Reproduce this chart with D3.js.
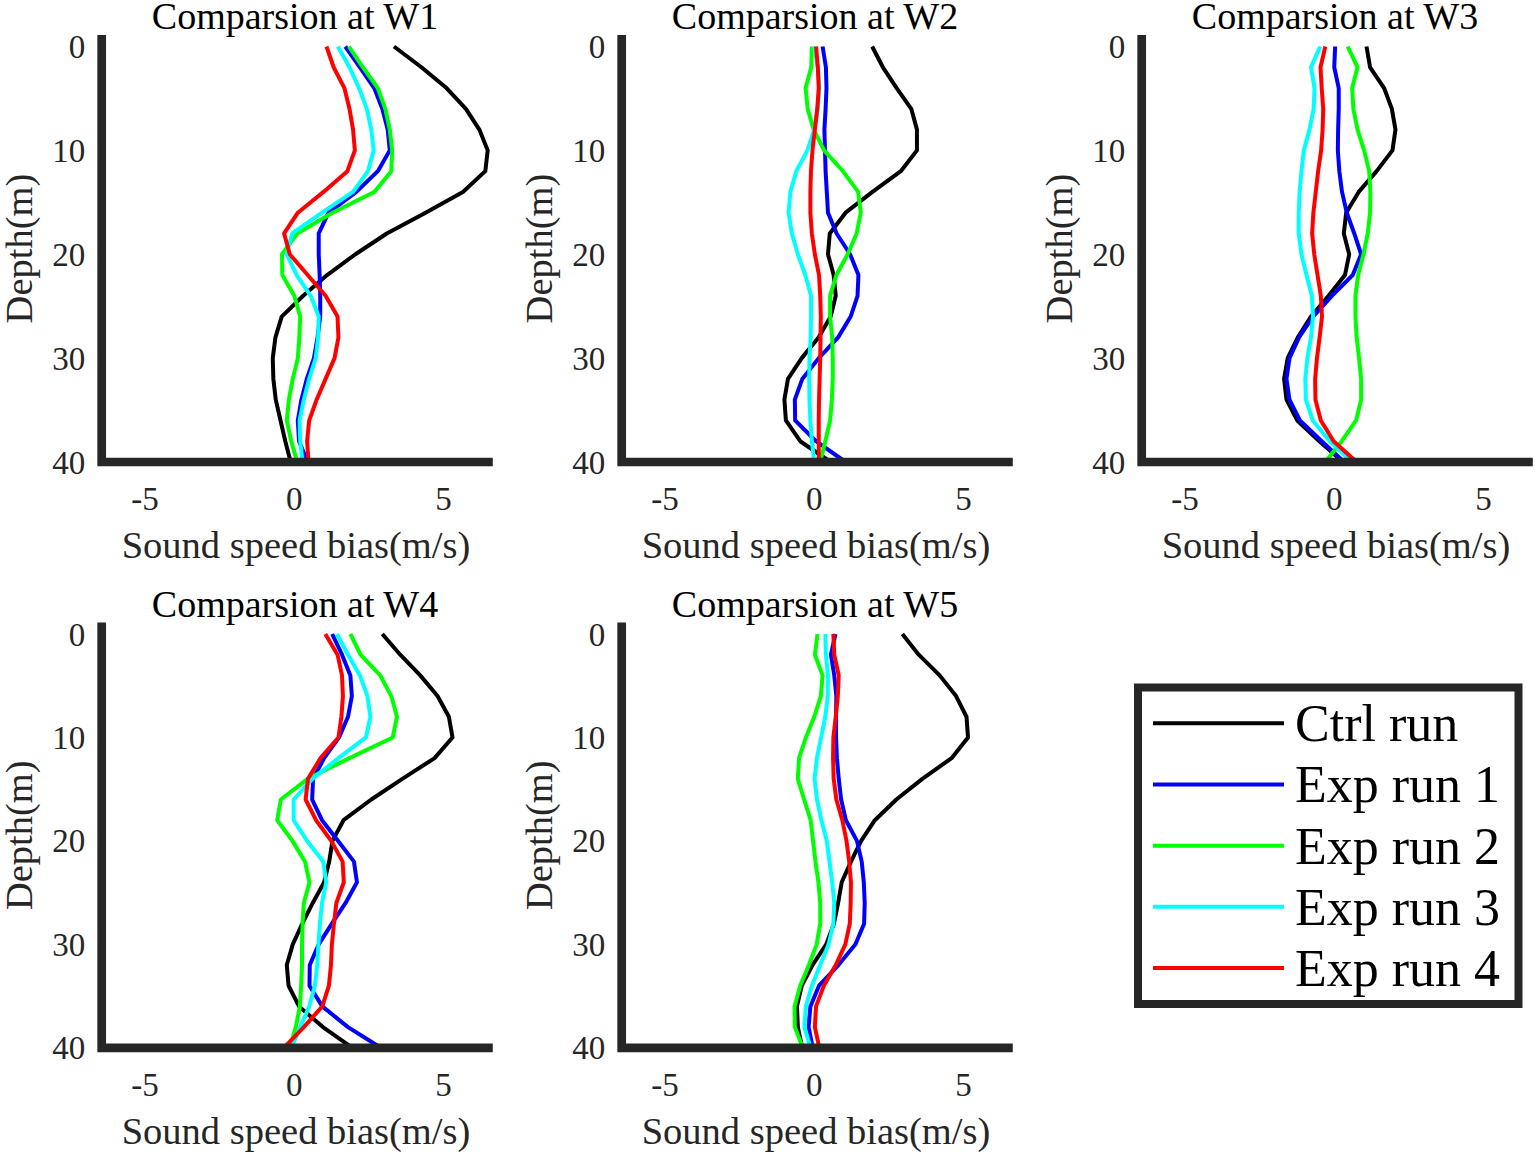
<!DOCTYPE html>
<html>
<head>
<meta charset="utf-8">
<script src="https://cdn.jsdelivr.net/npm/d3@7/dist/d3.min.js"></script>
<style>
  html, body { margin: 0; padding: 0; background: #fff; }
  svg { display: block; }
  text { font-family: "Liberation Serif", "Times New Roman", "DejaVu Serif", serif; }
</style>
</head>
<body>
<svg id="chart" width="1535" height="1155"></svg>
<script>
// ---------------- DATA ----------------
const depths = [0,2,4,6,8,10,12,14,16,18,20,22,24,26,28,30,32,34,36,38,40];
const seriesNames = ["Ctrl run", "Exp run 1", "Exp run 2", "Exp run 3", "Exp run 4"];
const seriesColors = ["#000000", "#0000ff", "#00ff00", "#00ffff", "#ff0000"];
const panelTitles = ["Comparsion at W1", "Comparsion at W2", "Comparsion at W3", "Comparsion at W4", "Comparsion at W5"];
const xTicks = [-5, 0, 5];
const yTicks = [0, 10, 20, 30, 40];
const xLabel = "Sound speed bias(m/s)";
const yLabel = "Depth(m)";

// W1
const w1Ctrl = [3.34,4.26,5.1,5.75,6.2,6.48,6.4,5.65,4.4,3.1,2.05,1.1,0.3,-0.42,-0.63,-0.72,-0.70,-0.62,-0.46,-0.3,-0.12];
const w1Exp1 = [1.71,2.2,2.68,2.95,3.13,3.2,2.8,2.08,1.15,0.82,0.82,0.85,0.87,0.87,0.78,0.66,0.42,0.24,0.12,0.16,0.45];
const w1Exp2 = [1.83,2.3,2.8,3.05,3.2,3.28,3.25,2.68,1.28,0.1,-0.41,-0.4,0.0,0.2,0.17,0.12,-0.05,-0.18,-0.25,-0.1,0.1];
const w1Exp3 = [1.46,1.85,2.17,2.43,2.58,2.66,2.47,1.97,0.93,-0.07,-0.25,0.08,0.55,0.82,0.8,0.72,0.5,0.32,0.18,0.2,0.28];
const w1Exp4 = [1.08,1.32,1.68,1.85,1.97,2.03,1.78,0.98,0.12,-0.34,-0.15,0.45,1.05,1.45,1.48,1.35,1.05,0.75,0.5,0.43,0.48];
// W2
const w2Ctrl = [1.94,2.3,2.76,3.25,3.44,3.44,2.9,1.95,1.05,0.52,0.46,0.65,0.72,0.55,0.15,-0.42,-0.88,-1.0,-0.95,-0.47,0.55];
const w2Exp1 = [0.28,0.39,0.41,0.38,0.34,0.36,0.38,0.42,0.46,0.75,1.2,1.48,1.45,1.22,0.8,0.15,-0.4,-0.65,-0.64,0.06,1.05];
const w2Exp2 = [-0.08,-0.1,-0.29,-0.22,-0.02,0.33,0.96,1.47,1.56,1.42,1.12,0.74,0.53,0.53,0.6,0.62,0.62,0.59,0.53,0.37,0.2];
const w2Exp3 = [0.0,0.12,0.17,0.12,0.0,-0.23,-0.6,-0.8,-0.86,-0.75,-0.55,-0.3,-0.11,-0.11,-0.12,-0.16,-0.17,-0.16,-0.13,-0.08,0.0];
const w2Exp4 = [0.06,0.12,0.15,0.1,0.02,-0.06,-0.11,-0.13,-0.13,-0.08,0.02,0.16,0.2,0.22,0.21,0.2,0.18,0.16,0.15,0.15,0.15];
// W3
const w3Ctrl = [1.08,1.2,1.67,1.93,2.05,1.95,1.42,0.82,0.4,0.32,0.5,0.36,-0.19,-0.78,-1.22,-1.56,-1.68,-1.6,-1.24,-0.5,0.3];
const w3Exp1 = [0.03,0.0,0.15,0.15,0.13,0.12,0.17,0.26,0.42,0.67,0.9,0.62,-0.08,-0.71,-1.18,-1.5,-1.6,-1.5,-1.15,-0.42,0.33];
const w3Exp2 = [0.45,0.78,0.6,0.64,0.78,1.0,1.17,1.21,1.2,1.12,0.98,0.8,0.71,0.71,0.75,0.83,0.9,0.9,0.73,0.25,-0.3];
const w3Exp3 = [-0.47,-0.78,-0.66,-0.69,-0.83,-1.02,-1.1,-1.16,-1.19,-1.19,-1.1,-0.93,-0.75,-0.71,-0.78,-0.9,-0.97,-0.95,-0.72,-0.15,0.6];
const w3Exp4 = [-0.3,-0.46,-0.42,-0.37,-0.39,-0.44,-0.54,-0.62,-0.7,-0.74,-0.67,-0.56,-0.45,-0.41,-0.49,-0.58,-0.64,-0.63,-0.45,-0.02,0.75];
// W4
const w4Ctrl = [2.95,3.55,4.22,4.8,5.18,5.3,4.7,3.62,2.58,1.65,1.28,1.17,1.0,0.62,0.27,-0.05,-0.25,-0.19,0.16,0.96,1.95];
const w4Exp1 = [1.27,1.6,1.88,1.93,1.8,1.5,1.0,0.63,0.6,0.93,1.47,2.0,2.1,1.72,1.26,0.82,0.52,0.51,0.94,1.8,2.9];
const w4Exp2 = [1.88,2.22,2.88,3.25,3.44,3.3,1.85,0.45,-0.45,-0.57,-0.06,0.36,0.51,0.32,0.28,0.26,0.26,0.23,0.19,0.05,-0.15];
const w4Exp3 = [1.43,1.8,2.2,2.45,2.55,2.4,1.48,0.61,-0.02,-0.02,0.43,0.97,1.07,0.93,0.86,0.81,0.77,0.69,0.5,0.2,-0.1];
const w4Exp4 = [1.04,1.45,1.6,1.63,1.58,1.48,0.88,0.46,0.38,0.73,1.24,1.62,1.66,1.41,1.33,1.26,1.23,1.16,0.94,0.32,-0.35];
// W5
const w5Ctrl = [2.95,3.5,4.2,4.75,5.1,5.15,4.6,3.62,2.75,2.03,1.57,1.23,0.92,0.8,0.66,0.4,-0.06,-0.42,-0.58,-0.55,-0.4];
const w5Exp1 = [0.71,0.56,0.67,0.74,0.73,0.73,0.76,0.82,0.9,1.06,1.43,1.59,1.66,1.69,1.67,1.38,0.81,0.16,-0.13,-0.19,-0.05];
const w5Exp2 = [0.11,0.02,0.28,0.22,0.0,-0.28,-0.51,-0.55,-0.34,-0.12,-0.04,0.04,0.14,0.2,0.2,0.08,-0.18,-0.47,-0.66,-0.65,-0.38];
const w5Exp3 = [0.37,0.39,0.46,0.45,0.37,0.23,0.09,0.01,0.09,0.24,0.42,0.51,0.6,0.67,0.64,0.48,0.2,-0.08,-0.28,-0.33,-0.12];
const w5Exp4 = [0.64,0.67,0.82,0.79,0.72,0.64,0.63,0.65,0.74,0.94,1.08,1.17,1.23,1.22,1.19,1.04,0.72,0.32,0.06,0.02,0.17];

const panelSeries = [
  [w1Ctrl, w1Exp1, w1Exp2, w1Exp3, w1Exp4],
  [w2Ctrl, w2Exp1, w2Exp2, w2Exp3, w2Exp4],
  [w3Ctrl, w3Exp1, w3Exp2, w3Exp3, w3Exp4],
  [w4Ctrl, w4Exp1, w4Exp2, w4Exp3, w4Exp4],
  [w5Ctrl, w5Exp1, w5Exp2, w5Exp3, w5Exp4]
];

// ---------------- LAYOUT ----------------
const svg = d3.select("#chart");
const axisColor = "#262626";
const colLeft = [101.7, 621.7, 1141.7];
const rowTop = [46.5, 634];
const rowBottom = [462, 1047.8];
const plotW = 386.6;
const xDom = [-6.45, 6.5];
const axisW = 8.7;

panelSeries.forEach((series, i) => {
  const col = i % 3, row = Math.floor(i / 3);
  const x = d3.scaleLinear().domain(xDom).range([colLeft[col], colLeft[col] + plotW]);
  const y = d3.scaleLinear().domain([0, 40]).range([rowTop[row], rowBottom[row]]);
  const g = svg.append("g");

  const line = d3.line().x(d => x(d[0])).y(d => y(d[1]));
  series.forEach((vals, s) => {
    g.append("path")
      .datum(vals.map((v, k) => [v, depths[k]]))
      .attr("d", line)
      .attr("fill", "none")
      .attr("stroke", seriesColors[s])
      .attr("stroke-width", 4)
      .attr("stroke-linejoin", "round");
  });

  // axes (left + bottom)
  g.append("path")
    .attr("d", `M${x(xDom[0])},${y(-1.1)} V${y(40)} H${x(6.65)}`)
    .attr("fill", "none")
    .attr("stroke", axisColor)
    .attr("stroke-width", axisW)
    .attr("stroke-linejoin", "miter");

  // y tick labels
  g.selectAll(".yt").data(yTicks).enter().append("text")
    .attr("x", x(xDom[0]) - 16.5)
    .attr("y", d => y(d))
    .attr("dy", "0.35em")
    .attr("text-anchor", "end")
    .attr("font-size", 33)
    .attr("fill", axisColor)
    .text(d => d);

  // x tick labels
  g.selectAll(".xt").data(xTicks).enter().append("text")
    .attr("x", d => x(d))
    .attr("y", y(40) + 48)
    .attr("text-anchor", "middle")
    .attr("font-size", 33)
    .attr("fill", axisColor)
    .text(d => d);

  const cx = (x(xDom[0]) + x(xDom[1])) / 2;
  // x label
  g.append("text")
    .attr("x", cx + 1)
    .attr("y", y(40) + 96)
    .attr("text-anchor", "middle")
    .attr("font-size", 38.5)
    .attr("fill", axisColor)
    .text(xLabel);

  // y label
  const ly = (y(-1.1) + y(40)) / 2;
  g.append("text")
    .attr("transform", `translate(${x(xDom[0]) - 70},${ly}) rotate(-90)`)
    .attr("text-anchor", "middle")
    .attr("font-size", 38.5)
    .attr("fill", axisColor)
    .text(yLabel);

  // title
  g.append("text")
    .attr("x", cx)
    .attr("y", y(0) - 17.5)
    .attr("text-anchor", "middle")
    .attr("font-size", 38)
    .attr("fill", "#000")
    .text(panelTitles[i]);
});

// ---------------- LEGEND ----------------
const lg = svg.append("g");
lg.append("rect")
  .attr("x", 1138).attr("y", 687.5)
  .attr("width", 380.5).attr("height", 316.5)
  .attr("fill", "#fff")
  .attr("stroke", axisColor)
  .attr("stroke-width", 8);
const legY = d3.scaleLinear().domain([0, 4]).range([723.3, 968]);
seriesNames.forEach((name, s) => {
  lg.append("line")
    .attr("x1", 1153).attr("x2", 1284)
    .attr("y1", legY(s)).attr("y2", legY(s))
    .attr("stroke", seriesColors[s])
    .attr("stroke-width", 4);
  lg.append("text")
    .attr("x", 1295)
    .attr("y", legY(s) + 18)
    .attr("font-size", 52)
    .attr("fill", "#000")
    .text(name);
});
</script>
</body>
</html>
